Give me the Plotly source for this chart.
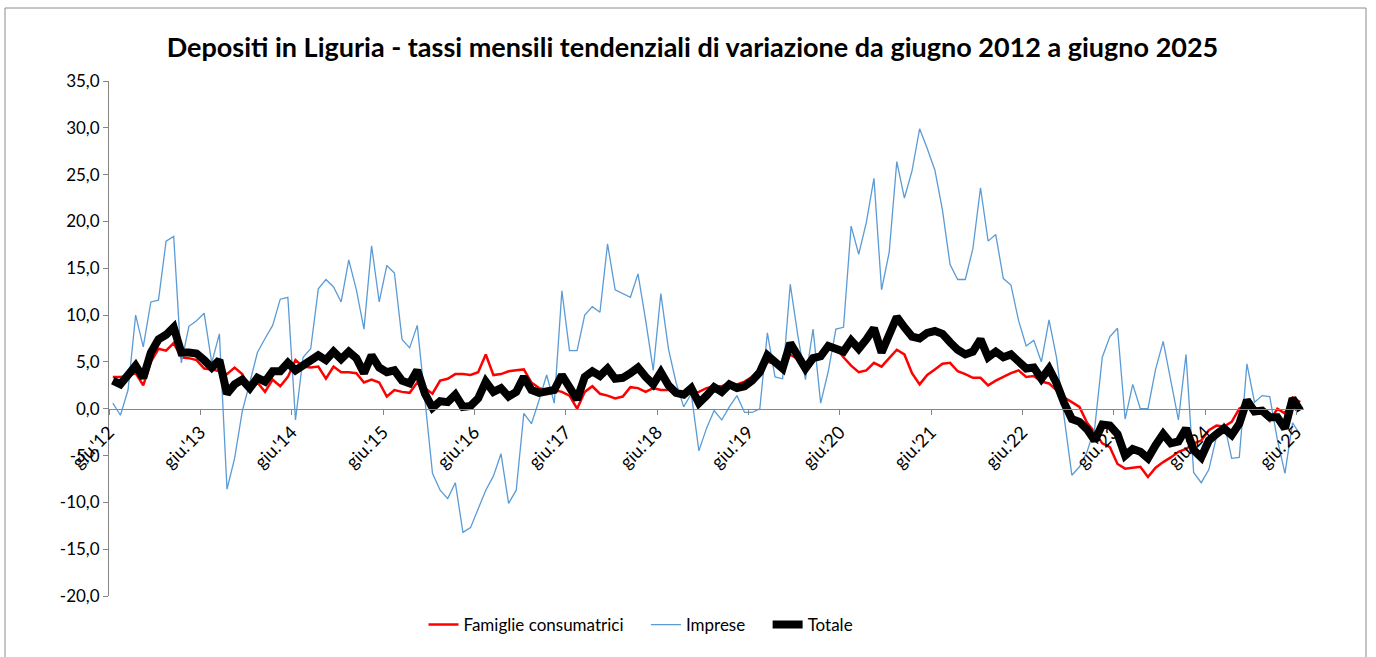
import plotly.graph_objects as go

# ---- data (monthly, giugno 2012 -> giugno 2025) ----
famiglie = [3.4, 3.4, 3.5, 3.8, 2.5, 5.0, 6.4, 6.2, 7.0, 5.5, 5.4, 5.2, 4.3, 4.2, 4.0, 3.7, 4.4, 3.7, 2.1, 2.8,
            1.8, 3.1, 2.4, 3.4, 5.2, 4.5, 4.4, 4.5, 3.2, 4.5, 3.9, 3.9, 3.8, 2.8, 3.1, 2.8, 1.3, 2.0, 1.8, 1.7,
            2.8, 2.2, 1.6, 3.0, 3.2, 3.7, 3.7, 3.6, 3.9, 5.8, 3.6, 3.7, 4.0, 4.1, 4.2, 2.8, 2.2, 2.0, 2.0, 1.8,
            1.4, 0.0, 1.8, 2.4, 1.6, 1.4, 1.1, 1.3, 2.3, 2.2, 1.8, 2.2, 2.0, 2.0, 1.9, 1.8, 1.7, 1.8, 2.2, 2.4,
            2.4, 2.8, 2.6, 2.9, 3.4, 4.1, 5.0, 4.8, 4.3, 5.8, 5.3, 4.4, 5.2, 6.0, 7.0, 6.5, 5.5, 4.6, 3.9, 4.1,
            4.9, 4.5, 5.4, 6.3, 5.8, 3.8, 2.6, 3.6, 4.2, 4.8, 4.9, 4.0, 3.7, 3.3, 3.3, 2.5, 3.0, 3.4, 3.8, 4.1,
            3.4, 3.5, 2.9, 2.7, 2.0, 1.2, 0.7, 0.2, -1.5, -2.5, -3.7, -4.1, -5.9, -6.4, -6.3, -6.2, -7.3, -6.3, -5.7, -5.2,
            -4.6, -4.3, -3.7, -3.4, -2.3, -1.8, -1.9, -1.4, 0.0, 0.5, -0.5, -0.5, -1.3, 0.0, -0.5, 1.2, 0.7]

imprese = [0.6, -0.7, 2.0, 10.0, 6.6, 11.4, 11.6, 17.9, 18.4, 4.9, 8.8, 9.4, 10.2, 4.9, 8.0, -8.6, -5.3, -0.3, 2.8, 6.0,
           7.5, 8.9, 11.7, 11.9, -1.2, 5.5, 6.4, 12.8, 13.8, 13.0, 11.4, 15.9, 12.7, 8.5, 17.4, 11.4, 15.3, 14.5, 7.4, 6.5,
           8.9, 0.8, -6.9, -8.7, -9.6, -7.9, -13.2, -12.7, -10.8, -8.7, -7.2, -4.8, -10.1, -8.7, -0.5, -1.6, 0.9, 3.6, 0.6, 12.6,
           6.2, 6.2, 10.0, 10.9, 10.3, 17.6, 12.7, 12.3, 11.9, 14.4, 9.5, 4.1, 12.3, 6.4, 2.8, 0.2, 1.6, -4.5, -2.1, -0.2,
           -1.2, 0.2, 1.4, -0.4, -0.4, 0.0, 8.1, 3.4, 3.2, 13.3, 7.8, 3.1, 8.5, 0.6, 4.0, 8.5, 8.7, 19.5, 16.5, 19.9,
           24.6, 12.7, 16.7, 26.4, 22.5, 25.4, 29.9, 27.8, 25.5, 21.2, 15.4, 13.8, 13.8, 17.1, 23.6, 17.9, 18.6, 13.9, 13.2, 9.4,
           6.7, 7.3, 5.0, 9.5, 5.4, -1.0, -7.1, -6.2, -4.6, -2.1, 5.5, 7.7, 8.6, -1.1, 2.6, 0.0, 0.0, 4.2, 7.2, 3.0,
           -1.2, 5.8, -6.8, -7.9, -6.5, -3.0, -1.5, -5.3, -5.2, 4.8, 0.7, 1.4, 1.3, -3.3, -6.9, -1.5, -2.8]

totale = [3.0, 2.6, 3.6, 4.6, 3.3, 6.0, 7.4, 7.9, 8.7, 6.0, 6.0, 5.9, 5.2, 4.4, 5.2, 1.6, 2.6, 3.1, 2.2, 3.3,
          2.9, 4.0, 4.0, 4.9, 4.1, 4.6, 5.0, 5.7, 5.2, 6.1, 5.3, 6.1, 5.4, 3.8, 5.7, 4.4, 3.9, 4.1, 3.0, 2.7,
          4.1, 1.6, 0.1, 0.8, 0.7, 1.5, 0.2, 0.3, 1.1, 2.9, 1.8, 2.2, 1.3, 1.8, 3.4, 2.0, 1.7, 1.8, 2.0, 3.6,
          2.2, 1.0, 3.4, 4.0, 3.5, 4.3, 3.2, 3.3, 3.8, 4.4, 3.4, 2.6, 3.9, 2.5, 1.7, 1.5, 2.2, 0.6, 1.4, 2.3,
          1.8, 2.6, 2.2, 2.4, 3.0, 3.9, 5.7, 5.0, 4.3, 7.0, 5.5, 4.3, 5.4, 5.6, 6.7, 6.4, 6.1, 7.3, 6.4, 7.4,
          8.6, 6.0, 7.8, 9.8, 8.7, 7.7, 7.5, 8.1, 8.3, 8.0, 7.1, 6.3, 5.8, 6.1, 7.4, 5.5, 6.1, 5.5, 5.8, 5.0,
          4.3, 4.4, 3.2, 4.3, 2.7, 0.6, -1.1, -1.4, -2.2, -3.4, -1.7, -1.8, -2.7, -5.0, -4.3, -4.6, -5.3, -3.9, -2.7, -3.7,
          -3.5, -2.1, -4.4, -5.2, -3.4, -2.7, -2.1, -2.8, -1.6, 0.9, -0.3, -0.2, -0.9, -0.9, -2.1, 1.1, -0.2]

tick_labels = ["giu.'12", "giu.'13", "giu.'14", "giu.'15", "giu.'16", "giu.'17", "giu.'18",
               "giu.'19", "giu.'20", "giu.'21", "giu.'22", "giu.'23", "giu.'24", "giu.'25"]
y_ticks = [-20, -15, -10, -5, 0, 5, 10, 15, 20, 25, 30, 35]
y_tick_labels = ["-20,0", "-15,0", "-10,0", "-5,0", "0,0", "5,0", "10,0", "15,0", "20,0", "25,0", "30,0", "35,0"]

months = list(range(len(totale)))
tickvals = [12 * k - 0.5 for k in range(len(tick_labels))]

W, H = 1376, 657
L, R, T, B = 109, 72, 81, 61
pw, ph = W - L - R, H - T - B
FONT = "Lato, Carlito, Calibri, sans-serif"
AX = "#868686"
PAD = "\u00a0" * 4

fig = go.Figure()
fig.add_trace(go.Scatter(x=months, y=famiglie, name="Famiglie consumatrici" + PAD, mode="lines",
                         line=dict(color="#FF0000", width=2.5)))
fig.add_trace(go.Scatter(x=months, y=imprese, name="Imprese" + PAD, mode="lines",
                         line=dict(color="#5B9BD5", width=1.3)))
fig.add_trace(go.Scatter(x=months, y=totale, name="Totale", mode="lines",
                         line=dict(color="#000000", width=8)))

fig.update_layout(
    width=W, height=H,
    margin=dict(l=L, r=R, t=T, b=B, pad=0),
    paper_bgcolor="white", plot_bgcolor="white",
    font=dict(family=FONT, size=17, color="#000000"),
    title=dict(text="<b>Depositi in Liguria - tassi mensili tendenziali di variazione da giugno 2012 a giugno 2025</b>",
               x=692.5 / W, xref="container", xanchor="center",
               y=1 - 48 / H, yref="container", yanchor="middle",
               font=dict(size=27, family=FONT, color="#000000")),
    showlegend=True,
    legend=dict(orientation="h", x=(641 - L) / pw, xanchor="center", y=-(625 - (T + ph)) / ph,
                yanchor="middle", font=dict(size=17), bgcolor="rgba(0,0,0,0)"),
    xaxis=dict(range=[-0.5, len(totale) - 0.5], tickmode="array", tickvals=tickvals, ticktext=tick_labels,
               tickangle=-45, showgrid=False, zeroline=False, showline=True, linecolor=AX, linewidth=1,
               ticks="outside", ticklen=5, tickcolor=AX, anchor="free", position=20 / 55,
               tickfont=dict(size=18)),
    yaxis=dict(range=[-20, 35], tickmode="array", tickvals=y_ticks, ticktext=y_tick_labels,
               showgrid=False, zeroline=False, showline=True, linecolor=AX, linewidth=1,
               ticks="outside", ticklen=5, tickcolor=AX, tickfont=dict(size=17)),
    shapes=[dict(type="rect", xref="paper", yref="paper",
                 x0=(5 - L) / pw, x1=(1366 - L) / pw,
                 y0=((T + ph) - 700) / ph, y1=((T + ph) - 8) / ph,
                 line=dict(color="#8C8C8C", width=1), fillcolor="rgba(0,0,0,0)", layer="below")],
)

fig.write_html("out.html", config={"displayModeBar": False},
               post_script="document.body.style.margin='0';document.body.style.overflow='hidden';")
